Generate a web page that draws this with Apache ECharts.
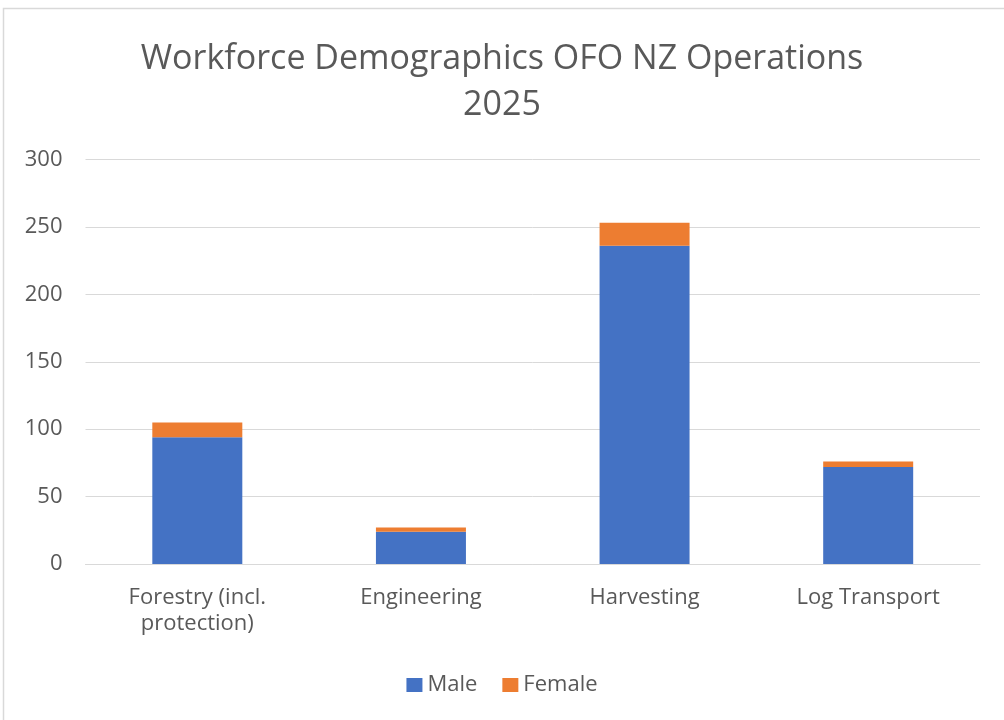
<!DOCTYPE html>
<html><head><meta charset="utf-8">
<script src="https://cdn.jsdelivr.net/npm/echarts@6/dist/echarts.min.js"></script>
<style>html,body{margin:0;padding:0;background:#fff}#c{width:1004px;height:720px}</style>
</head><body><div id="c"></div>
<script>
var categories = ['Forestry (incl.\nprotection)', 'Engineering', 'Harvesting', 'Log Transport'];
var male = [94, 24, 236, 72];
var female = [11, 3, 17, 4];
var chart = echarts.init(document.getElementById('c'));
var font = '"Open Sans", "Noto Sans", sans-serif';
chart.setOption({
  animation: false,
  title: {
    text: 'Workforce Demographics OFO NZ Operations\n2025',
    left: 'center', top: 31,
    textStyle: {fontFamily: font, fontSize: 34, fontWeight: 'normal', color: '#595959', lineHeight: 46}
  },
  graphic: [{type: 'rect', shape: {x: 3.5, y: 8.5, width: 1010, height: 720}, style: {fill: 'none', stroke: '#d9d9d9', lineWidth: 1.5}, silent: true}],
  legend: {
    top: 669, left: 'center', itemWidth: 16, itemHeight: 14, itemGap: 25, icon: 'rect',
    textStyle: {fontFamily: font, fontSize: 22, color: '#595959'},
    data: ['Male', 'Female']
  },
  grid: {left: 85.5, right: 24, top: 159.5, bottom: 156},
  xAxis: {
    type: 'category', data: categories,
    axisLine: {lineStyle: {color: '#d9d9d9'}}, axisTick: {show: false},
    axisLabel: {fontFamily: font, fontSize: 22, color: '#595959', margin: 21, lineHeight: 26}
  },
  yAxis: {
    type: 'value', min: 0, max: 300, interval: 50,
    axisLine: {show: false}, axisTick: {show: false},
    splitLine: {lineStyle: {color: '#d9d9d9'}},
    axisLabel: {fontFamily: font, fontSize: 22, color: '#595959', margin: 23}
  },
  series: [
    {name: 'Male', type: 'bar', stack: 't', data: male, barWidth: 90, itemStyle: {color: '#4472c4'}},
    {name: 'Female', type: 'bar', stack: 't', data: female, barWidth: 90, itemStyle: {color: '#ed7d31'}}
  ]
});
</script></body></html>
